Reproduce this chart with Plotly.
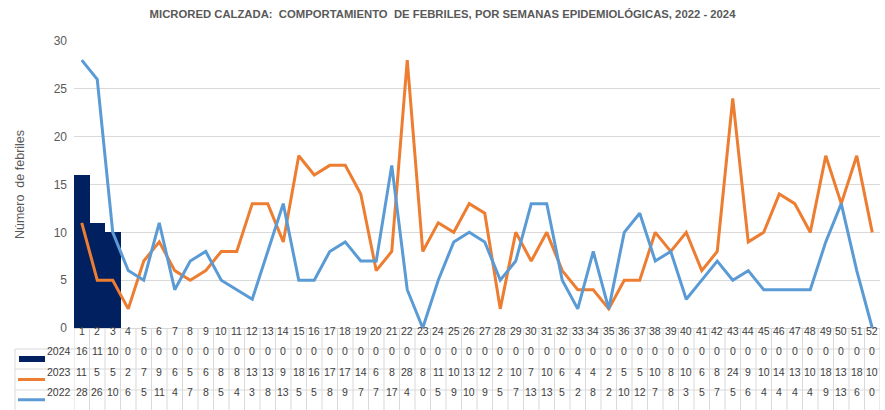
import plotly.graph_objects as go

weeks = list(range(1, 53))
y2024 = [16, 11, 10] + [0] * 49
y2023 = [11, 5, 5, 2, 7, 9, 6, 5, 6, 8, 8, 13, 13, 9,
         18, 16, 17, 17, 14, 6, 8, 28, 8, 11, 10, 13, 12, 2, 10, 7, 10, 6, 4,
         4, 2, 5, 5, 10, 8, 10, 6, 8, 24, 9, 10, 14, 13, 10, 18, 13, 18, 10]
y2022 = [28, 26, 10, 6, 5, 11, 4, 7, 8, 5, 4, 3, 8, 13,
         5, 5, 8, 9, 7, 7, 17, 4, 0, 5, 9, 10, 9, 5, 7, 13, 13, 5, 2,
         8, 2, 10, 12, 7, 8, 3, 5, 7, 5, 6, 4, 4, 4, 4, 9, 13, 6, 0]
series_names = ["2024", "2023", "2022"]

NAVY = "#002060"
ORANGE = "#ED7D31"
BLUE = "#5B9BD5"
GRID = "#D9D9D9"
TXT = "#404040"
FONT = "Liberation Sans, Arial, sans-serif"

W, H = 885, 410
ML, MR, MT, MB = 74, 5, 41, 82
PH = H - MT - MB

def py(pix):
    """pixel y from top -> paper fraction"""
    return (H - MB - pix) / PH

def px(pix):
    return (pix - ML) / (W - ML - MR)

fig = go.Figure()
fig.add_trace(go.Bar(x=weeks, y=y2024, marker=dict(color=NAVY, line=dict(width=0)),
                     name="2024"))
fig.add_trace(go.Scatter(x=weeks, y=y2023, mode="lines", line=dict(color=ORANGE, width=3),
                         name="2023"))
fig.add_trace(go.Scatter(x=weeks, y=y2022, mode="lines", line=dict(color=BLUE, width=3),
                         name="2022"))

# data table
row_tops = [H - MB, 349, 369, 390, H - 0.5]
row_centers = [(row_tops[i] + row_tops[i + 1]) / 2 for i in range(4)]
shapes = []
annotations = []
for yt in row_tops[1:-1]:
    shapes.append(dict(type="line", xref="paper", yref="paper",
                       x0=px(15), x1=1, y0=py(yt), y1=py(yt),
                       line=dict(color=GRID, width=1)))
for k in range(0, 53):
    shapes.append(dict(type="line", xref="x", yref="paper",
                       x0=k + 0.5, x1=k + 0.5, y0=py(row_tops[0]), y1=py(H),
                       line=dict(color=GRID, width=1)))
shapes.append(dict(type="line", xref="paper", yref="paper",
                   x0=px(15), x1=px(15), y0=py(row_tops[1]), y1=py(H),
                   line=dict(color=GRID, width=1)))

TS = 10.5
for w in weeks:
    annotations.append(dict(x=w, y=py(row_centers[0]), xref="x", yref="paper",
                            text=str(w), showarrow=False,
                            font=dict(family=FONT, size=TS, color=TXT)))
for r, vals in enumerate([y2024, y2023, y2022], start=1):
    for w, v in zip(weeks, vals):
        annotations.append(dict(x=w, y=py(row_centers[r]), xref="x", yref="paper",
                                text=str(v), showarrow=False,
                                font=dict(family=FONT, size=TS, color=TXT)))
    annotations.append(dict(x=px(73), y=py(row_centers[r]), xref="paper", yref="paper",
                            xanchor="right", text=series_names[r - 1], showarrow=False,
                            font=dict(family=FONT, size=TS, color=TXT)))

# legend keys
shapes.append(dict(type="rect", xref="paper", yref="paper",
                   x0=px(19), x1=px(45), y0=py(row_centers[1] + 3), y1=py(row_centers[1] - 3),
                   fillcolor=NAVY, line=dict(width=0)))
shapes.append(dict(type="line", xref="paper", yref="paper",
                   x0=px(18), x1=px(45), y0=py(row_centers[2]), y1=py(row_centers[2]),
                   line=dict(color=ORANGE, width=3)))
shapes.append(dict(type="line", xref="paper", yref="paper",
                   x0=px(18), x1=px(45), y0=py(row_centers[3]), y1=py(row_centers[3]),
                   line=dict(color=BLUE, width=3)))

fig.update_layout(
    width=W, height=H,
    margin=dict(l=ML, r=MR, t=MT, b=MB),
    paper_bgcolor="white", plot_bgcolor="white",
    showlegend=False,
    bargap=0,
    title=dict(text="<b>MICRORED CALZADA:  COMPORTAMIENTO  DE FEBRILES, POR SEMANAS EPIDEMIOLÓGICAS, 2022 - 2024</b>",
               x=0.5, xanchor="center", y=1 - 14 / H, yanchor="middle",
               font=dict(family=FONT, size=11.3, color="#595959")),
    xaxis=dict(range=[0.5, 52.5], showticklabels=False, showgrid=False,
               showline=True, linecolor=GRID, linewidth=1, zeroline=False, fixedrange=True),
    yaxis=dict(range=[0, 30], dtick=5, showgrid=True, gridcolor=GRID, gridwidth=1,
               zeroline=False, showline=False,
               tickfont=dict(family=FONT, size=12, color="#595959"),
               ticks="", ticklabelstandoff=6,
               title=dict(text="Número  de febriles", standoff=26,
                          font=dict(family=FONT, size=12.5, color="#595959"))),
    shapes=shapes, annotations=annotations,
)

fig.write_html("out.html", config={"displayModeBar": False},
               post_script="document.body.style.margin='0';document.body.style.padding='0';")
